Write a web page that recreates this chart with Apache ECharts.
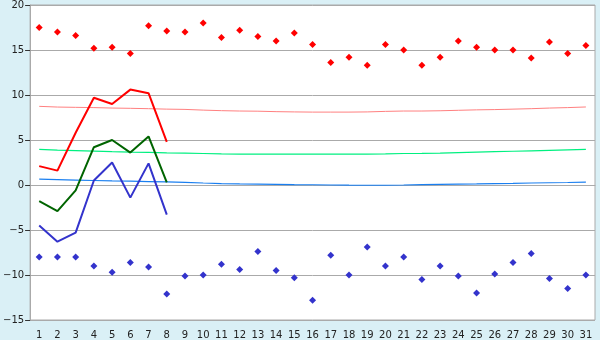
<!DOCTYPE html>
<html>
<head>
<meta charset="utf-8">
<script src="https://cdn.jsdelivr.net/npm/echarts@6/dist/echarts.min.js"></script>
<style>
html,body{margin:0;padding:0;background:#daf0f6;}
#c{width:600px;height:340px;}
</style>
</head>
<body>
<div id="c"></div>
<script>
var days = ['1','2','3','4','5','6','7','8','9','10','11','12','13','14','15','16','17','18','19','20','21','22','23','24','25','26','27','28','29','30','31'];
var yTicks = [-15,-10,-5,0,5,10,15,20];
var recordMax = [17.5,17.0,16.6,15.2,15.3,14.6,17.7,17.1,17.0,18.0,16.4,17.2,16.5,16.0,16.9,15.6,13.6,14.2,13.3,15.6,15.0,13.3,14.2,16.0,15.3,15.0,15.0,14.1,15.9,14.6,15.5];
var recordMin = [-8.0,-8.0,-8.0,-9.0,-9.7,-8.6,-9.1,-12.1,-10.1,-10.0,-8.8,-9.4,-7.4,-9.5,-10.3,-12.8,-7.8,-10.0,-6.9,-9.0,-8.0,-10.5,-9.0,-10.1,-12.0,-9.9,-8.6,-7.6,-10.4,-11.5,-10.0];
var dailyMax = [2.1,1.6,5.8,9.7,9.0,10.6,10.2,4.8];
var dailyMean = [-1.8,-2.9,-0.6,4.2,5.0,3.6,5.4,0.3];
var dailyMin = [-4.5,-6.3,-5.3,0.5,2.5,-1.4,2.4,-3.3];
var normalMax = [8.74,8.66,8.63,8.6,8.55,8.52,8.48,8.43,8.4,8.32,8.26,8.22,8.2,8.15,8.12,8.1,8.1,8.1,8.12,8.18,8.22,8.22,8.25,8.3,8.35,8.38,8.43,8.48,8.55,8.6,8.67];
var normalMean = [3.96,3.88,3.82,3.76,3.7,3.65,3.62,3.58,3.55,3.5,3.45,3.42,3.42,3.42,3.42,3.42,3.42,3.42,3.42,3.45,3.5,3.52,3.55,3.6,3.65,3.7,3.75,3.8,3.85,3.9,3.96];
var normalMin = [0.65,0.6,0.55,0.5,0.45,0.42,0.38,0.34,0.3,0.22,0.15,0.12,0.1,0.08,0.05,0.03,0.0,-0.02,-0.03,-0.03,0.0,0.05,0.08,0.1,0.12,0.15,0.18,0.22,0.25,0.28,0.32];

var chart = echarts.init(document.getElementById('c'), null, {renderer:'canvas'});
var font = 'DejaVu Sans';
function lineS(name, data, color, width){
  return {name:name, type:'line', data:data, symbol:'none', smooth:false,
    lineStyle:{color:color, width:width}, itemStyle:{color:color}, z:2};
}
function scatS(name, data, color){
  return {name:name, type:'scatter', data:data, symbol:'diamond', symbolSize:7,
    itemStyle:{color:color, opacity:1}, z:3};
}
chart.setOption({
  animation:false,
  backgroundColor:'#daf0f6',
  grid:{left:26, right:5, top:5, bottom:20, show:true, backgroundColor:'#ffffff', borderColor:'#aaaaaa', borderWidth:1},
  xAxis:{type:'category', data:days, boundaryGap:true,
    axisLine:{lineStyle:{color:'#aaaaaa'}},
    axisTick:{alignWithLabel:true, length:5, lineStyle:{color:'#333333'}},
    axisLabel:{interval:0, color:'#222222', fontFamily:font, fontSize:10, margin:10},
    splitLine:{show:false}},
  yAxis:{type:'value', min:yTicks[0], max:yTicks[yTicks.length-1], interval:5,
    axisLine:{show:true, lineStyle:{color:'#aaaaaa'}},
    axisTick:{show:true, length:5, lineStyle:{color:'#333333'}},
    axisLabel:{color:'#222222', fontFamily:font, fontSize:10, margin:6,
      formatter:function(v){return v<0 ? '\u2212'+Math.abs(v) : String(v);}},
    splitLine:{lineStyle:{color:'#aaaaaa', width:1}}},
  series:[
    lineS('normalMax', normalMax, '#ff8080', 1),
    lineS('normalMean', normalMean, '#00f080', 1.2),
    lineS('normalMin', normalMin, '#1a7ff0', 1.2),
    lineS('max', dailyMax, '#ff0000', 2),
    lineS('mean', dailyMean, '#006400', 2),
    lineS('min', dailyMin, '#3333cc', 2),
    scatS('recordMax', recordMax, '#ff0000'),
    scatS('recordMin', recordMin, '#3333cc')
  ]
});
</script>
</body>
</html>
